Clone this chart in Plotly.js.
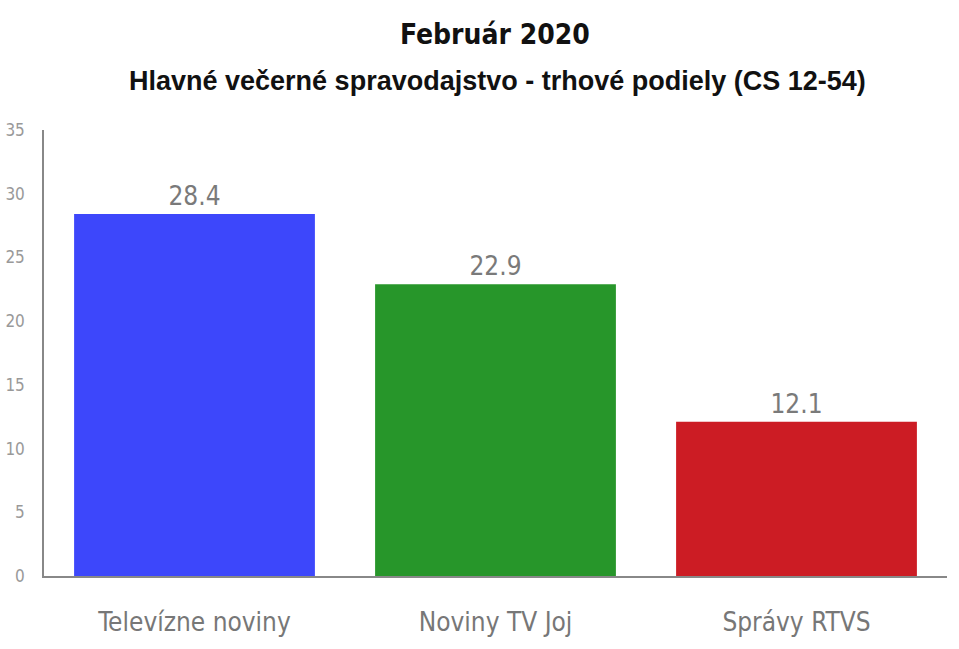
<!DOCTYPE html>
<html>
<head>
<meta charset="utf-8">
<script src="https://cdn.plot.ly/plotly-3.0.1.min.js"></script>
<style>
  body { margin: 0; background: #fff; }
  #chart { width: 959px; height: 649px; }
</style>
</head>
<body>
<div id="chart"></div>
<script>
const categories = ['Televízne noviny', 'Noviny TV Joj', 'Správy RTVS'];
const shares = [28.4, 22.9, 12.1];
const barColors = ['#3d47fb', '#27962a', '#cc1c24'];
const yTicks = [0, 5, 10, 15, 20, 25, 30, 35];

const narrow = '"DejaVu Sans Condensed", "Liberation Sans Narrow", sans-serif';

const traces = [
  {
    x: categories,
    y: shares,
    type: 'bar',
    marker: { color: barColors },
    text: shares.map(v => v.toFixed(1)),
    textposition: 'outside',
    textfont: { family: narrow, size: 26, color: '#7a7a7a' },
    cliponaxis: false,
    hoverinfo: 'none',
  },
];

const layout = {
  width: 959,
  height: 649,
  margin: { l: 44, r: 12, t: 130, b: 73 },
  paper_bgcolor: '#ffffff',
  plot_bgcolor: '#ffffff',
  bargap: 0.2,
  showlegend: false,
  title: {
    text: '<b>Február 2020</b>',
    x: 0.516,
    xanchor: 'center',
    y: 0.948,
    yanchor: 'middle',
    font: { family: narrow, size: 28, color: '#111' },
  },
  annotations: [
    {
      text: '<b>Hlavné večerné spravodajstvo - trhové podiely (CS 12-54)</b>',
      xref: 'paper',
      yref: 'paper',
      x: 0.502,
      y: 1.0,
      xanchor: 'center',
      yanchor: 'middle',
      yshift: 49,
      showarrow: false,
      font: { family: '"Liberation Sans", Arial, sans-serif', size: 27, color: '#111' },
    },
  ],
  xaxis: {
    showline: true,
    linecolor: '#888',
    linewidth: 1.5,
    ticks: '',
    showgrid: false,
    zeroline: false,
    ticklabelstandoff: 22,
    tickfont: { family: narrow, size: 26, color: '#777' },
  },
  yaxis: {
    range: [0, 35],
    tickvals: yTicks,
    showline: true,
    linecolor: '#888',
    linewidth: 1.5,
    ticks: '',
    showgrid: false,
    zeroline: false,
    ticklabelstandoff: 14,
    tickfont: { family: narrow, size: 17, color: '#999' },
  },
};

Plotly.newPlot(document.getElementById('chart'), traces, layout, { displayModeBar: false });
</script>
</body>
</html>
